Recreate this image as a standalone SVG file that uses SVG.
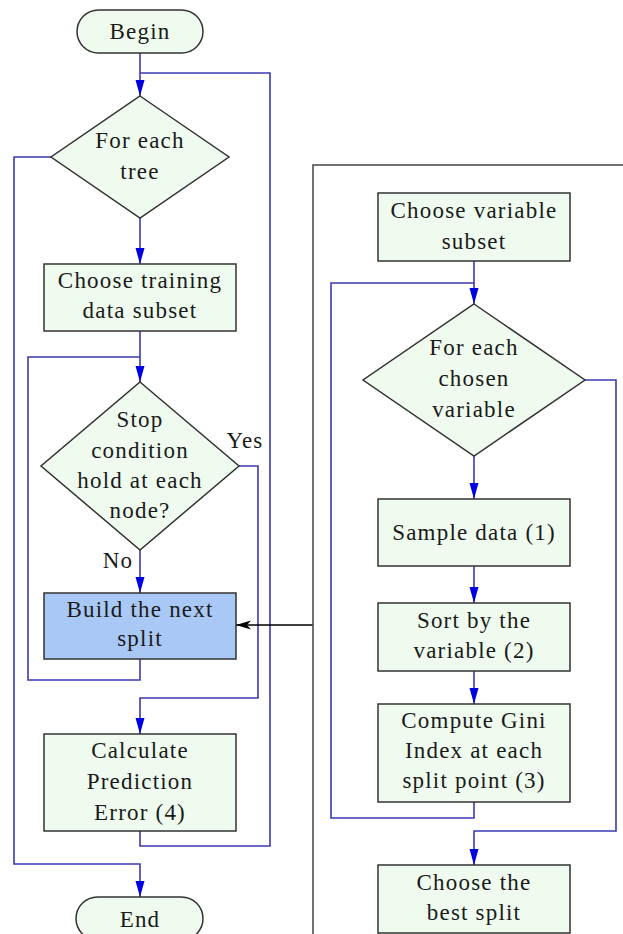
<svg xmlns="http://www.w3.org/2000/svg" width="623" height="934" viewBox="0 0 623 934">
<style>
.n{fill:#eefbee;stroke:#333;stroke-width:1.5}
.b{fill:#a9c8f5;stroke:#333;stroke-width:1.5}
.c{fill:none;stroke:#3a3ab4;stroke-width:1.6}
.k{fill:none;stroke:#444;stroke-width:1.5}
text{font-size:23px;fill:#1a1a1a;text-anchor:middle;letter-spacing:1.2px}
</style>
<defs>
<marker id="a" markerUnits="userSpaceOnUse" markerWidth="16" markerHeight="10" refX="16" refY="5" orient="auto">
<path d="M0,0.5 L16,5 L0,9.5 Z" fill="#0000e0"/>
</marker>
<marker id="ak" markerUnits="userSpaceOnUse" markerWidth="16" markerHeight="10" refX="15" refY="5" orient="auto">
<path d="M0,0.5 L15,5 L0,9.5 L4,5 Z" fill="#000"/>
</marker>
</defs>
<g id="connectors">
<path class="c" d="M140,53 V96" marker-end="url(#a)"/>
<path class="c" d="M140,831 V846 H270 V73 H140"/>
<path class="c" d="M51,157 H14 V864 H140 V897" marker-end="url(#a)"/>
<path class="c" d="M140,218 V264" marker-end="url(#a)"/>
<path class="c" d="M140,331 V382" marker-end="url(#a)"/>
<path class="c" d="M140,659 V680 H28 V357 H140"/>
<path class="c" d="M140,550 V593" marker-end="url(#a)"/>
<path class="c" d="M239,466 H258 V698 H140 V734" marker-end="url(#a)"/>
<path d="M313,625 H236" fill="none" stroke="#000" stroke-width="1.3" marker-end="url(#ak)"/>
<path class="c" d="M474,261 V304" marker-end="url(#a)"/>
<path class="c" d="M474,802 V818 H331 V283 H474"/>
<path class="c" d="M474,456 V499" marker-end="url(#a)"/>
<path class="c" d="M474,566 V603" marker-end="url(#a)"/>
<path class="c" d="M474,671 V704" marker-end="url(#a)"/>
<path class="c" d="M585,380 H616 V831 H474 V865" marker-end="url(#a)"/>
</g>
<g id="frame"><path class="k" d="M623,165 H313 V934"/></g>
<g font-family="'Liberation Serif', 'DejaVu Serif', serif">
<g id="begin"><rect class="n" x="77" y="10" width="126" height="43" rx="21.5"/><text x="140" y="39">Begin</text></g>
<g id="foreachtree"><path class="n" d="M140,96 L229,157 L140,218 L51,157 Z"/><text x="140" y="148">For each</text><text x="140" y="179">tree</text></g>
<g id="choosetraining"><rect class="n" x="44" y="264" width="192" height="67"/><text x="140" y="288">Choose training</text><text x="140" y="318">data subset</text></g>
<g id="stop"><path class="n" d="M140,382 L239,466 L140,550 L41,466 Z"/><text x="140" y="427">Stop</text><text x="140" y="458">condition</text><text x="140" y="488">hold at each</text><text x="140" y="518">node?</text></g>
<g id="labels"><text x="245" y="448">Yes</text><text x="118" y="568">No</text></g>
<g id="build"><rect class="b" x="44" y="593" width="192" height="66"/><text x="140" y="617">Build the next</text><text x="140" y="646">split</text></g>
<g id="calc"><rect class="n" x="44" y="734" width="192" height="97"/><text x="140" y="758">Calculate</text><text x="140" y="789">Prediction</text><text x="140" y="820">Error (4)</text></g>
<g id="end"><rect class="n" x="76" y="897" width="127" height="43" rx="21.5"/><text x="140" y="927">End</text></g>
<g id="choosevar"><rect class="n" x="378" y="193" width="192" height="68"/><text x="474" y="218">Choose variable</text><text x="474" y="249">subset</text></g>
<g id="foreachvar"><path class="n" d="M474,304 L585,380 L474,456 L363,380 Z"/><text x="474" y="355">For each</text><text x="474" y="386">chosen</text><text x="474" y="417">variable</text></g>
<g id="sample"><rect class="n" x="378" y="499" width="192" height="67"/><text x="474" y="540">Sample data (1)</text></g>
<g id="sort"><rect class="n" x="378" y="603" width="192" height="68"/><text x="474" y="628">Sort by the</text><text x="474" y="658">variable (2)</text></g>
<g id="gini"><rect class="n" x="378" y="704" width="192" height="98"/><text x="474" y="728">Compute Gini</text><text x="474" y="758">Index at each</text><text x="474" y="788">split point (3)</text></g>
<g id="best"><rect class="n" x="378" y="865" width="192" height="68"/><text x="474" y="890">Choose the</text><text x="474" y="920">best split</text></g>
</g>
</svg>
